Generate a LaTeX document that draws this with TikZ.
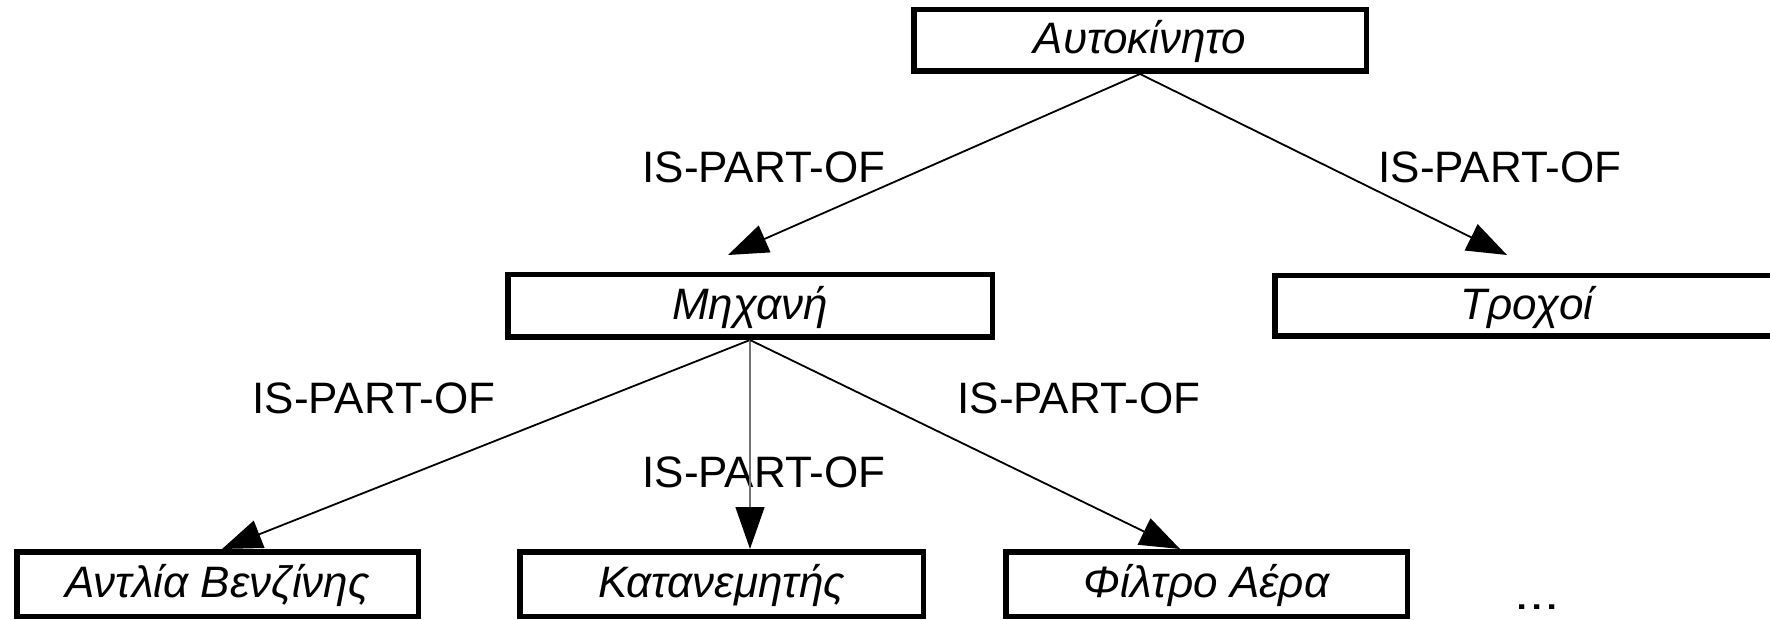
\documentclass[tikz,border=0pt]{standalone}
\usepackage{fontspec}
\setmainfont{Liberation Sans}
\usetikzlibrary{arrows.meta,calc}
\begin{document}
\begin{tikzpicture}[x=1pt,y=-1pt,
  part/.style={draw=black,line width=5.5pt,fill=white,inner sep=0pt,
    font=\fontsize{44}{46}\selectfont\itshape,text height=35pt,text depth=8pt},
  rel/.style={font=\fontsize{44}{46}\selectfont,inner sep=0pt},
  link/.style={draw=black,line width=1.8pt,-{Triangle[length=40pt,width=29pt]}},
  thinlink/.style={draw=black!55,line width=1.3pt,-{Triangle[length=42pt,width=29pt,color=black]}}
]
\useasboundingbox (0,0) rectangle (1770,620);
\clip (0,0) rectangle (1770,620);

% part boxes
\node[part,minimum width=452.5pt,minimum height=61.5pt] (car)    at (1140,40.5) {Αυτοκίνητο};
\node[part,minimum width=484.5pt,minimum height=62.5pt] (engine) at (750,306)   {Μηχανή};
\node[part,minimum width=504.5pt,minimum height=60.5pt] (wheels) at (1527,306)  {Τροχοί};
\node[part,minimum width=401.5pt,minimum height=64.5pt] (pump)   at (217.5,584) {Αντλία Βενζίνης};
\node[part,minimum width=403.5pt,minimum height=64.5pt] (distr)  at (721.5,584) {Κατανεμητής};
\node[part,minimum width=401.5pt,minimum height=64.5pt] (filter) at (1206.5,584) {Φίλτρο Αέρα};

% relation labels
\node[rel] (l1) at (764,167) {IS-PART-OF};
\node[rel] (l2) at (1500,167) {IS-PART-OF};
\node[rel] (l3) at (374,398) {IS-PART-OF};
\node[rel] (l4) at (1079,398) {IS-PART-OF};
\node[rel] (l5) at (764,472) {IS-PART-OF};

% continuation mark
\node[rel] (more) at (1537,607) {\scalebox{1.25}[1]{...}};

% part-of links
\draw[link] (car.south) -- ([shift={(-22,-17)}]engine.north);
\draw[link] (car.south) -- ([shift={(-20,-18)}]wheels.north);
\draw[link] (engine.south) -- ([xshift=4.5pt]pump.north);
\draw[thinlink] (engine.south) -- (engine.south |- distr.north);
\draw[link] (engine.south) -- ([xshift=-26.5pt]filter.north);
\end{tikzpicture}
\end{document}
